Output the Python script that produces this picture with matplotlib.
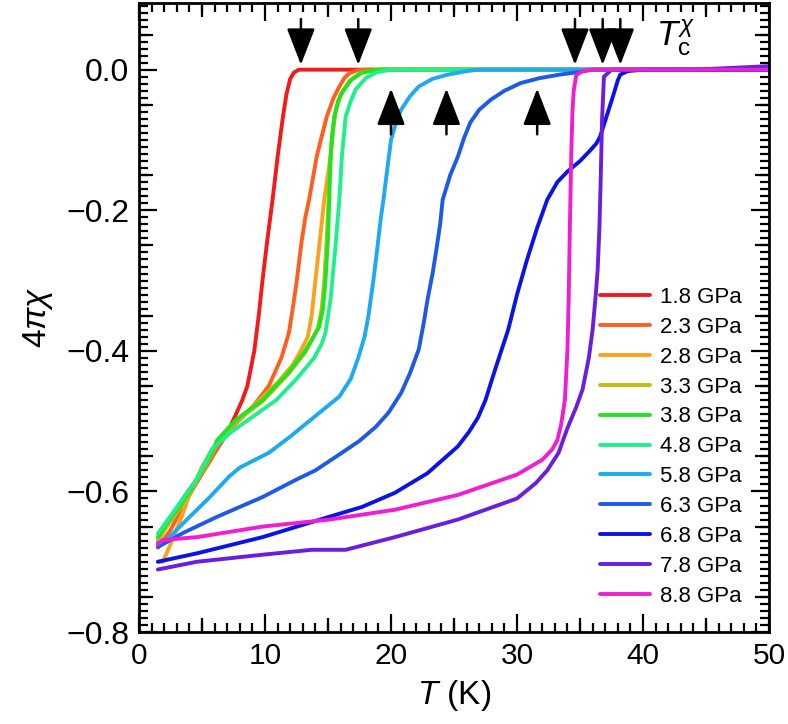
import numpy as np
import matplotlib
matplotlib.use('Agg')
import matplotlib.pyplot as plt
from matplotlib.ticker import MultipleLocator
import matplotlib.transforms as mtransforms

plt.rcParams['font.family'] = ['Liberation Sans', 'DejaVu Sans']
plt.rcParams['mathtext.fontset'] = 'custom'
plt.rcParams['mathtext.rm'] = 'Liberation Sans'
plt.rcParams['mathtext.it'] = 'Liberation Sans:italic'

# pressures and colours
labels = ['1.8 GPa', '2.3 GPa', '2.8 GPa', '3.3 GPa', '3.8 GPa', '4.8 GPa',
          '5.8 GPa', '6.3 GPa', '6.8 GPa', '7.8 GPa', '8.8 GPa']
colors = ['#f51a1a', '#ff5f1e', '#f9a21e', '#c4bd18', '#22e41e', '#1ef08c',
          '#1eaaf2', '#1e5ae8', '#0a14e6', '#6a1ee0', '#f01ed2']

T_18 = [1.5, 2.5, 3.5, 4.5, 5.5, 6.3, 7.0, 7.7, 8.2, 8.6, 9.15, 9.5, 9.8, 10.2, 10.6, 11.0, 11.4, 11.7, 12.0, 12.3, 12.7, 13.5, 20, 30, 40, 50]
y_18 = [-0.67, -0.64, -0.61, -0.585, -0.56, -0.535, -0.517, -0.49, -0.47, -0.45, -0.40, -0.35, -0.30, -0.24, -0.185, -0.124, -0.07, -0.035, -0.013, -0.004, 0, 0, 0, 0, 0, 0]

T_23 = [1.5, 2.5, 3.5, 4.5, 5.5, 6.3, 7.2, 9.0, 10.3, 11.3, 11.9, 12.2, 12.5, 12.9, 13.2, 13.5, 14.1, 14.5, 14.9, 15.4, 15.9, 16.3, 16.7, 17.3, 18, 50]
y_23 = [-0.68, -0.655, -0.62, -0.59, -0.56, -0.537, -0.512, -0.48, -0.45, -0.41, -0.374, -0.34, -0.303, -0.245, -0.21, -0.185, -0.124, -0.095, -0.067, -0.042, -0.024, -0.012, -0.005, -0.001, 0, 0]

T_28 = [1.5, 1.9, 2.5, 3.2, 4.0, 5.0, 5.8, 7.2, 9.0, 11.0, 12.2, 12.9, 13.4, 13.7, 14.0, 14.4, 14.7, 15.2, 15.5, 15.8, 16.1, 16.8, 17.7, 19, 50]
y_28 = [-0.70, -0.70, -0.675, -0.645, -0.605, -0.565, -0.54, -0.51, -0.48, -0.445, -0.42, -0.398, -0.38, -0.35, -0.30, -0.235, -0.185, -0.124, -0.067, -0.045, -0.033, -0.015, -0.004, 0, 0]

T_33 = [1.5, 2.2, 3.2, 4.2, 5.0, 5.8, 6.2, 7.7, 9.8, 11.9, 13.2, 14.2, 14.5, 14.7, 14.9, 15.1, 15.3, 15.6, 16.0, 16.7, 17.6, 19, 50]
y_33 = [-0.67, -0.65, -0.625, -0.597, -0.572, -0.547, -0.53, -0.50, -0.472, -0.432, -0.402, -0.368, -0.34, -0.30, -0.24, -0.16, -0.10, -0.06, -0.035, -0.016, -0.004, 0, 0]

T_38 = [1.5, 2.2, 3.2, 4.2, 5.0, 5.8, 6.2, 7.7, 9.8, 11.9, 13.2, 14.3, 14.6, 14.8, 15.0, 15.1, 15.2, 15.35, 15.5, 15.8, 16.1, 16.8, 17.7, 19, 50]
y_38 = [-0.665, -0.645, -0.622, -0.595, -0.57, -0.545, -0.527, -0.498, -0.47, -0.43, -0.40, -0.366, -0.34, -0.30, -0.24, -0.185, -0.124, -0.09, -0.067, -0.045, -0.033, -0.015, -0.004, 0, 0]

T_48 = [1.5, 2.5, 3.5, 4.5, 5.8, 7.2, 9.0, 10.9, 12.5, 13.9, 14.5, 14.8, 15.2, 15.6, 15.9, 16.1, 16.4, 16.8, 17.2, 18.0, 18.8, 20, 50]
y_48 = [-0.66, -0.635, -0.61, -0.585, -0.54, -0.517, -0.494, -0.47, -0.44, -0.41, -0.39, -0.374, -0.327, -0.25, -0.185, -0.124, -0.067, -0.045, -0.028, -0.012, -0.004, 0, 0]

T_58 = [1.5, 2.2, 3.8, 5.4, 7.2, 8.0, 10.3, 12.0, 13.5, 15.0, 15.9, 16.8, 17.4, 17.9, 18.2, 18.6, 18.9, 19.2, 19.4, 19.8, 20.0, 20.4, 20.8, 21.5, 22.2, 23.3, 24.5, 26, 27, 50]
y_58 = [-0.673, -0.669, -0.64, -0.612, -0.578, -0.566, -0.545, -0.522, -0.50, -0.478, -0.465, -0.44, -0.41, -0.38, -0.351, -0.30, -0.256, -0.21, -0.185, -0.128, -0.10, -0.075, -0.057, -0.038, -0.024, -0.013, -0.007, -0.002, 0, 0]

T_63 = [1.5, 3.5, 6.2, 9.8, 12.5, 14.0, 16.1, 17.5, 18.8, 19.8, 20.8, 21.5, 22.2, 22.6, 22.9, 23.3, 23.6, 23.9, 24.1, 24.7, 25.3, 25.8, 26.3, 27.0, 27.9, 29.0, 30.3, 31.8, 33.4, 35, 36, 50]
y_63 = [-0.679, -0.659, -0.636, -0.608, -0.583, -0.57, -0.545, -0.528, -0.508, -0.488, -0.46, -0.432, -0.398, -0.36, -0.327, -0.29, -0.256, -0.22, -0.185, -0.15, -0.124, -0.097, -0.075, -0.057, -0.043, -0.03, -0.019, -0.012, -0.007, -0.003, 0, 0]

T_68 = [1.5, 4.6, 9.8, 15.1, 17.7, 20.3, 22.9, 25.3, 26.2, 26.9, 27.5, 28.2, 29.3, 30.0, 30.8, 31.6, 32.4, 33.2, 34.0, 35.0, 35.8, 36.3, 36.6, 37.1, 37.7, 38.0, 38.2, 38.8, 40, 50]
y_68 = [-0.70, -0.688, -0.665, -0.636, -0.622, -0.602, -0.574, -0.536, -0.515, -0.495, -0.47, -0.43, -0.37, -0.32, -0.27, -0.225, -0.185, -0.16, -0.145, -0.13, -0.115, -0.105, -0.095, -0.067, -0.033, -0.015, -0.007, -0.002, 0, 0]

T_78 = [1.5, 4.6, 9.8, 13.7, 16.4, 20.3, 25.3, 30, 31.5, 32.4, 33.3, 34.0, 34.7, 35.2, 35.7, 36.0, 36.25, 36.4, 36.55, 36.65, 36.75, 36.9, 37.5, 44, 50]
y_78 = [-0.711, -0.70, -0.69, -0.683, -0.683, -0.665, -0.64, -0.61, -0.588, -0.57, -0.545, -0.51, -0.48, -0.455, -0.41, -0.37, -0.32, -0.285, -0.22, -0.15, -0.07, -0.01, 0, 0, 0.005]

T_88 = [1.5, 1.9, 4.6, 9.8, 15.1, 20.3, 25.3, 30, 32, 32.8, 33.2, 33.5, 33.8, 34.0, 34.1, 34.2, 34.3, 34.4, 34.5, 34.7, 35.2, 36, 50]
y_88 = [-0.675, -0.669, -0.665, -0.65, -0.64, -0.626, -0.605, -0.576, -0.555, -0.54, -0.527, -0.505, -0.47, -0.40, -0.327, -0.22, -0.124, -0.06, -0.03, -0.008, -0.002, 0, 0]

T_all = [T_18, T_23, T_28, T_33, T_38, T_48, T_58, T_63, T_68, T_78, T_88]
y_all = [y_18, y_23, y_28, y_33, y_38, y_48, y_58, y_63, y_68, y_78, y_88]

# Tc arrows
tc_down = [12.85, 17.4, 34.6, 36.8, 38.2]
tc_up = [20.0, 24.4, 31.6]

fig = plt.figure(figsize=(7.88, 7.24), dpi=100)
ax = fig.add_axes([0.1764, 0.127, 0.7995, 0.869])

for T, y, c, lab in zip(T_all, y_all, colors, labels):
    ax.plot(T, y, color=c, lw=2.8, label=lab, solid_capstyle='round', solid_joinstyle='round')

arrow = dict(arrowstyle='-|>,head_length=0.57,head_width=0.22', color='black',
             lw=1.8, mutation_scale=40, shrinkA=0, shrinkB=0)
for t in tc_down:
    ax.annotate('', xy=(t, 0.007), xytext=(t, 0.072), arrowprops=arrow)
for t in tc_up:
    ax.annotate('', xy=(t, -0.027), xytext=(t, -0.092), arrowprops=arrow)

ax.text(41.0, 0.045, r'$T_{\rm c}^{\chi}$', fontsize=25, va='center', ha='left')

ax.set_xlim(0, 50)
ax.set_ylim(-0.8, 0.095)
ax.set_xticks([0, 10, 20, 30, 40, 50])
ax.set_yticks([-0.8, -0.6, -0.4, -0.2, 0.0])
ax.set_yticklabels(['\u22120.8', '\u22120.6', '\u22120.4', '\u22120.2', '0.0'])
ax.xaxis.set_minor_locator(MultipleLocator(1))
ax.yaxis.set_minor_locator(MultipleLocator(0.01))
ax.tick_params(which='both', direction='in', top=True, right=True, width=1.6)
ax.tick_params(axis='x', labelsize=21.5)
ax.tick_params(axis='y', labelsize=23)
ax.tick_params(which='major', length=13, pad=7)
ax.tick_params(which='minor', length=6.5)
for s in ax.spines.values():
    s.set_linewidth(2.0)

# medium ticks
xt = mtransforms.blended_transform_factory(ax.transData, ax.transAxes)
yt = mtransforms.blended_transform_factory(ax.transAxes, ax.transData)
kw = dict(color='black', markersize=10, mew=1.6, clip_on=False, ls='none')
xm = np.arange(5, 50, 10)
ym = np.arange(-0.75, 0.06, 0.1)
ax.plot(xm, np.zeros_like(xm), transform=xt, marker=2, **kw)
ax.plot(xm, np.ones_like(xm), transform=xt, marker=3, **kw)
ax.plot(np.zeros_like(ym), ym, transform=yt, marker=1, **kw)
ax.plot(np.ones_like(ym), ym, transform=yt, marker=0, **kw)

ax.set_xlabel(r'$T$ (K)', fontsize=24, labelpad=6)
ax.set_ylabel(r'$4\pi\chi$', fontsize=24, labelpad=8)

ax.legend(loc='lower right', bbox_to_anchor=(0.985, 0.012), frameon=False, fontsize=16,
          handlelength=2.25, handletextpad=0.45, labelspacing=0.4, borderpad=0.3)

fig.savefig('out.png', dpi=100)
